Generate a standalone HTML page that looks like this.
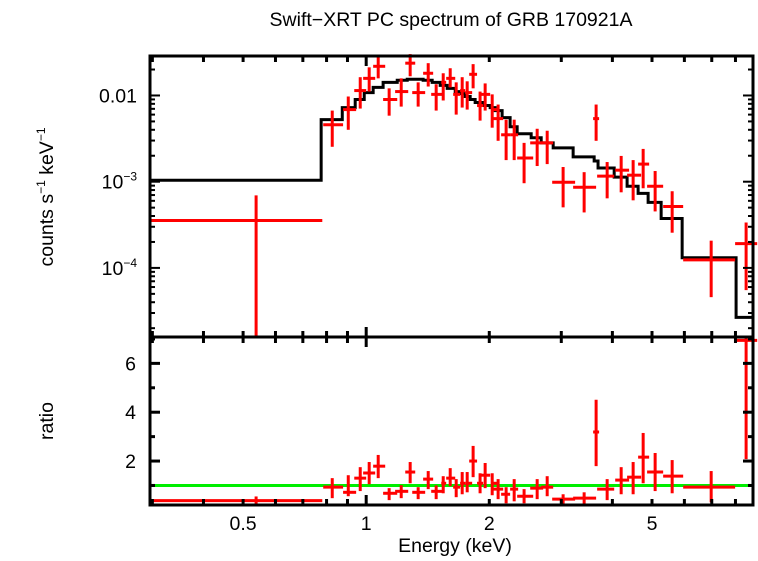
<!DOCTYPE html>
<html><head><meta charset="utf-8"><style>
html,body{margin:0;padding:0;background:#fff;}
svg text{font-family:"Liberation Sans",sans-serif;fill:#000;}
</style></head><body>
<svg id="chart" width="758" height="556" viewBox="0 0 758 556" xmlns="http://www.w3.org/2000/svg">
<text x="451" y="26" font-size="19.5" text-anchor="middle">Swift−XRT PC spectrum of GRB 170921A</text>
<text transform="translate(53,197) rotate(-90)" font-size="19.5" text-anchor="middle">counts s<tspan font-size="12" dy="-8">−1</tspan><tspan dy="8"> keV</tspan><tspan font-size="12" dy="-8">−1</tspan></text>
<text transform="translate(53,421) rotate(-90)" font-size="19.5" text-anchor="middle">ratio</text>
<text x="455" y="552" font-size="19.5" text-anchor="middle">Energy (keV)</text>
<g id="plot"></g>
</svg>
<script>
// ---- data ----
const eCen = [0.538,0.826,0.904,0.967,1.017,1.070,1.138,1.218,1.281,1.340,1.418,1.483,1.543,1.605,1.660,1.717,1.766,1.826,1.899,1.954,2.033,2.102,2.199,2.301,2.433,2.619,2.771,3.031,3.412,3.650,3.884,4.203,4.496,4.757,5.089,5.601,6.977,8.494];
const eLo = [0.296,0.785,0.878,0.935,0.983,1.040,1.100,1.177,1.246,1.296,1.378,1.442,1.526,1.569,1.632,1.697,1.746,1.786,1.867,1.899,2.021,2.044,2.138,2.249,2.340,2.518,2.679,2.850,3.207,3.589,3.671,4.064,4.346,4.624,4.864,5.324,5.959,7.984];
const eHi = [0.781,0.878,0.945,1.000,1.052,1.113,1.191,1.267,1.318,1.394,1.458,1.534,1.569,1.651,1.697,1.746,1.816,1.867,1.932,2.010,2.090,2.163,2.249,2.353,2.561,2.709,2.866,3.243,3.650,3.712,4.041,4.395,4.703,4.920,5.324,5.959,7.984,9.04];
const rate = [3.55e-4,4.58e-3,6.86e-3,1.14e-2,1.58e-2,2.18e-2,8.98e-3,1.11e-2,2.37e-2,1.08e-2,1.81e-2,1.03e-2,1.42e-2,1.58e-2,1.03e-2,1.14e-2,1.08e-2,1.76e-2,7.64e-3,1.03e-2,6.86e-3,5.39e-3,3.50e-3,3.50e-3,1.88e-3,2.82e-3,2.82e-3,9.86e-4,8.63e-4,5.39e-3,1.16e-3,1.36e-3,1.19e-3,1.60e-3,8.86e-4,5.16e-4,1.24e-4,1.91e-4];
const rateHi = [6.95e-4,6.68e-3,9.73e-3,1.63e-2,2.12e-2,2.86e-2,1.21e-2,1.58e-2,3.02e-2,1.42e-2,2.37e-2,1.35e-2,1.81e-2,2.07e-2,1.42e-2,1.63e-2,1.46e-2,2.31e-2,1.11e-2,1.38e-2,1.03e-2,7.85e-3,5.24e-3,5.24e-3,2.82e-3,4.11e-3,3.90e-3,1.48e-3,1.29e-3,7.85e-3,1.69e-3,1.99e-3,1.78e-3,2.40e-3,1.33e-3,7.75e-4,2.07e-4,3.36e-4];
const rateLo = [1e-5,2.54e-3,4.00e-3,7.05e-3,1.11e-2,1.58e-2,5.83e-3,7.43e-3,1.67e-2,7.43e-3,1.27e-2,6.68e-3,8.75e-3,1.24e-2,6.0e-3,7.24e-3,6.86e-3,1.21e-2,5.11e-3,6.68e-3,4.23e-3,2.98e-3,1.78e-3,1.78e-3,9.6e-4,1.52e-3,1.60e-3,5.04e-4,4.40e-4,2.98e-3,6.41e-4,7.53e-4,6.08e-4,8.39e-4,4.52e-4,2.56e-4,4.58e-5,5.53e-5];
const ratio = [0.38,0.93,0.72,1.30,1.51,1.79,0.68,0.76,1.55,0.72,1.26,0.76,1.09,1.30,0.93,1.09,1.09,2.00,1.09,1.42,1.09,0.85,0.64,0.85,0.56,0.89,0.93,0.44,0.48,3.19,0.85,1.22,1.34,2.16,1.55,1.38,0.93,6.94];
const ratioHi = [0.55,1.30,1.42,1.75,1.96,2.25,0.89,1.01,1.96,0.93,1.59,1.00,1.38,1.71,1.26,1.55,1.55,2.62,1.50,1.92,1.50,1.26,0.93,1.26,0.85,1.26,1.38,0.64,0.72,4.51,1.26,1.75,1.96,3.15,2.33,2.04,1.59,7.2];
const ratioLo = [0.1,0.48,0.56,0.77,1.05,1.30,0.40,0.48,1.09,0.44,0.85,0.44,0.68,0.97,0.52,0.64,0.72,1.34,0.68,0.89,0.60,0.44,0.27,0.35,0.27,0.44,0.56,0.15,0.19,1.79,0.40,0.64,0.64,1.09,0.77,0.68,0.31,2.08];
const modelEdges = [0.296,0.776,0.874,0.940,0.989,1.040,1.100,1.191,1.260,1.378,1.450,1.517,1.578,1.651,1.697,1.746,1.796,1.847,1.932,2.010,2.067,2.150,2.249,2.340,2.532,2.679,2.866,3.207,3.610,3.690,4.041,4.346,4.624,4.892,5.264,5.925,8.028,8.83];
const modelVals = [1.04e-3,5.24e-3,7.24e-3,8.98e-3,1.08e-2,1.24e-2,1.42e-2,1.50e-2,1.54e-2,1.50e-2,1.42e-2,1.31e-2,1.21e-2,1.11e-2,1.05e-2,9.73e-3,8.98e-3,8.28e-3,7.64e-3,7.24e-3,6.68e-3,5.53e-3,4.34e-3,3.60e-3,3.23e-3,2.82e-3,2.47e-3,1.94e-3,1.74e-3,1.44e-3,1.13e-3,8.86e-4,7.33e-4,5.75e-4,3.74e-4,1.31e-4,2.67e-5];
const xTickLabels = [0.5,1,2,5];
const yTopTickLabels = [0.01,1e-3,1e-4];
const ratioTickLabels = [2,4,6];

// ---- axes ----
const L=150,R=753,T1=56,B1=337,T2=337,B2=505;
const xMin=0.296,xMax=8.83, yMin=1.58e-5,yMax=0.0287, rMin=0.2,rMax=7.08;
const X=e=>L+(Math.log10(e)-Math.log10(xMin))/(Math.log10(xMax)-Math.log10(xMin))*(R-L);
const Y=v=>B1-(Math.log10(Math.max(v,yMin))-Math.log10(yMin))/(Math.log10(yMax)-Math.log10(yMin))*(B1-T1);
const YR=r=>B2-(Math.min(Math.max(r,rMin),rMax)-rMin)/(rMax-rMin)*(B2-T2);
const NS="http://www.w3.org/2000/svg";
const g=document.getElementById('plot');
function el(tag,attrs){const e=document.createElementNS(NS,tag);for(const k in attrs)e.setAttribute(k,attrs[k]);g.appendChild(e);return e;}
function line(x1,y1,x2,y2,c,w){return el('line',{x1,y1,x2,y2,stroke:c,'stroke-width':w});}

// model histogram
let d=`M${X(modelEdges[0])},${Y(modelVals[0])}`;
for(let i=0;i<modelVals.length;i++){d+=` L${X(modelEdges[i])},${Y(modelVals[i])} L${X(modelEdges[i+1])},${Y(modelVals[i])}`;}
const mp=el('path',{d,fill:'none',stroke:'#000','stroke-width':3});



// ratio unity line
const gl=line(L,YR(1),R,YR(1),'#00ee00',3);



// data points
for(let i=0;i<eCen.length;i++){
  const cx=X(eCen[i]);
  const h=line(X(eLo[i]),Y(rate[i]),X(eHi[i]),Y(rate[i]),'#f00',3);
  
  
  const v=line(cx,Y(rateHi[i]),cx,Y(rateLo[i]),'#f00',3);
  
  
  const h2=line(X(eLo[i]),YR(ratio[i]),X(eHi[i]),YR(ratio[i]),'#f00',3);
  
  
  const v2=line(cx,YR(ratioHi[i]),cx,YR(ratioLo[i]),'#f00',3);
  
  
}

// frames
const f1=el('rect',{x:L,y:T1,width:R-L,height:B1-T1,fill:'none',stroke:'#000','stroke-width':3});


const f2=el('rect',{x:L,y:T2,width:R-L,height:B2-T2,fill:'none',stroke:'#000','stroke-width':3});



// x ticks
const xt=[0.3,0.4,0.5,0.6,0.7,0.8,0.9,1,2,3,4,5,6,7,8];
xt.forEach(e=>{const x=X(e),len=(e===1)?10:6;
  [[T1,1],[B1,-1],[T2,1],[B2,-1]].forEach(([y,s])=>{const t=line(x,y,x,y+s*len,'#000',3);
    
    });});
xTickLabels.forEach(e=>{const t=el('text',{x:X(e),y:530,'font-size':19.5,'text-anchor':'middle'});t.textContent=String(e);
  
  });

// y ticks top (log)
for(let p=-5;p<=-2;p++){for(let m=1;m<=9;m++){const v=m*Math.pow(10,p);if(v<yMin||v>yMax)continue;
  const y=Y(v),len=m===1?10:5;
  const a=line(L,y,L+len,y,'#000',2);
  const b=line(R,y,R-len,y,'#000',2);}}
yTopTickLabels.forEach(v=>{const t=el('text',{x:137,y:Y(v)+7,'font-size':19.5,'text-anchor':'end'});
  if(v===0.01)t.textContent='0.01';else{const ex=Math.round(Math.log10(v));t.innerHTML=`10<tspan font-size="12" dy="-8">−${-ex}</tspan>`;}
  
  });

// ratio ticks
for(let r=1;r<=7;r++){const y=YR(r),len=r%2===0?10:5;
  const a=line(L,y,L+len,y,'#000',3);
  const b=line(R,y,R-len,y,'#000',3);}
ratioTickLabels.forEach(r=>{const t=el('text',{x:136,y:YR(r)+7,'font-size':19.5,'text-anchor':'end'});t.textContent=String(r);
  
  });
</script>
</body></html>
